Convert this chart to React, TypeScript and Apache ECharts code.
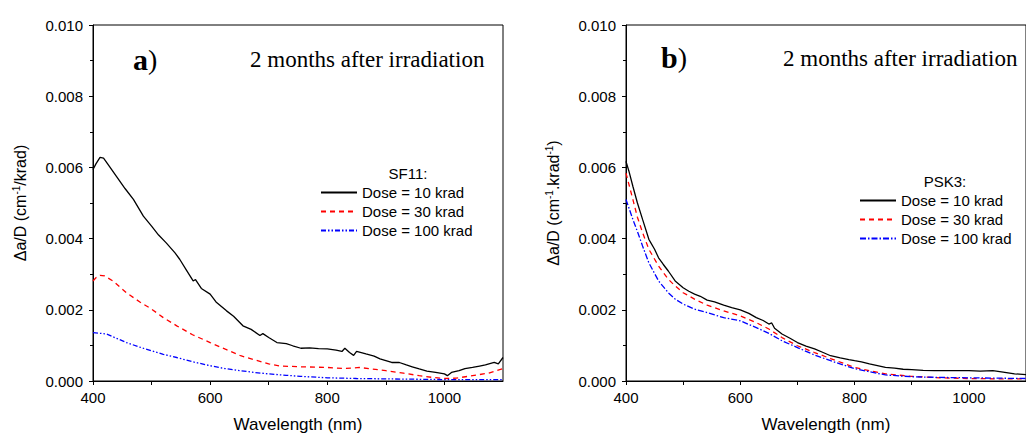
import React, { useEffect, useRef } from "react";
import * as echarts from "echarts";

// ---- Data (wavelength nm, Δa/D in cm^-1/krad) ----
const sf11Dose10: [number, number][] = [
  [400, 0.00594], [405, 0.0061], [412, 0.00628], [418, 0.00626], [425, 0.0061], [440, 0.00575],
  [455, 0.0054], [469, 0.0051], [486, 0.00463], [500, 0.00435], [512, 0.0041], [525, 0.00388],
  [540, 0.0036], [548, 0.00342], [560, 0.0031], [571, 0.00281], [575, 0.00285], [585, 0.0026],
  [600, 0.00244], [610, 0.00222], [628, 0.00197], [640, 0.00182], [656, 0.00155], [670, 0.00145],
  [685, 0.00128], [690, 0.00133], [700, 0.00122], [714, 0.00108], [730, 0.00105], [741, 0.00099],
  [755, 0.00092], [770, 0.00093], [785, 0.00091], [800, 0.0009], [815, 0.00087], [825, 0.00083],
  [830, 0.00092], [838, 0.0008], [845, 0.00072], [850, 0.00083], [866, 0.00076], [880, 0.0007],
  [890, 0.00062], [900, 0.00057], [910, 0.00052], [923, 0.00052], [935, 0.00045], [945, 0.0004],
  [957, 0.00034], [970, 0.00028], [985, 0.00024], [1000, 0.0002], [1005, 0.00015], [1012, 0.00024],
  [1025, 0.00029], [1035, 0.00035], [1048, 0.00038], [1060, 0.00042], [1070, 0.00045], [1076, 0.00048],
  [1085, 0.00052], [1092, 0.00048], [1100, 0.00066],
];
const sf11Dose30: [number, number][] = [
  [400, 0.00281], [405, 0.0029], [412, 0.00297], [420, 0.00295], [435, 0.0028], [457, 0.00248],
  [480, 0.00222], [500, 0.00202], [520, 0.00178], [543, 0.00155], [570, 0.0013], [600, 0.00108],
  [625, 0.0009], [652, 0.00071], [675, 0.0006], [700, 0.00048], [720, 0.00042], [754, 0.0004],
  [800, 0.00038], [829, 0.00035], [855, 0.00038], [875, 0.00034], [900, 0.00029], [930, 0.00022],
  [957, 0.00015], [980, 0.0001], [1000, 0.00007], [1020, 0.00008], [1048, 0.00015], [1075, 0.00022],
  [1100, 0.00035],
];
const sf11Dose100: [number, number][] = [
  [400, 0.00136], [423, 0.00132], [440, 0.0012], [457, 0.00108], [480, 0.00095], [500, 0.00085],
  [520, 0.00075], [543, 0.00066], [570, 0.00054], [600, 0.00043], [625, 0.00035], [652, 0.00029],
  [675, 0.00024], [700, 0.0002], [730, 0.00016], [754, 0.00013], [800, 0.00009], [850, 0.00007],
  [900, 0.00006], [950, 0.00005], [1000, 0.00004], [1050, 0.00004], [1100, 0.00004],
];
const psk3Dose10: [number, number][] = [
  [400, 0.00617], [405, 0.0059], [412, 0.00547], [420, 0.005], [429, 0.00454], [440, 0.00398],
  [450, 0.0037], [457, 0.00346], [465, 0.00328], [474, 0.00309], [486, 0.00281], [500, 0.00262],
  [510, 0.00252], [520, 0.00244], [530, 0.00238], [542, 0.00227], [555, 0.00222], [571, 0.00213],
  [585, 0.00206], [600, 0.002], [615, 0.0019], [628, 0.00178], [640, 0.0017], [645, 0.00165],
  [650, 0.0016], [655, 0.00163], [660, 0.00148], [673, 0.00132], [687, 0.0012], [700, 0.00108],
  [715, 0.00098], [730, 0.0009], [745, 0.0008], [758, 0.00071], [775, 0.00065], [790, 0.0006],
  [800, 0.00057], [812, 0.00054], [826, 0.00048], [840, 0.00043], [854, 0.00038], [870, 0.00036],
  [885, 0.00033], [900, 0.00032], [920, 0.0003], [940, 0.00029], [970, 0.00029], [1000, 0.00029],
  [1020, 0.00028], [1042, 0.00029], [1060, 0.00025], [1080, 0.0002], [1100, 0.00018],
];
const psk3Dose30: [number, number][] = [
  [400, 0.00584], [412, 0.0051], [420, 0.0046], [429, 0.00417], [440, 0.0037], [457, 0.00323],
  [474, 0.00286], [486, 0.00267], [500, 0.00248], [520, 0.0023], [542, 0.00213], [571, 0.00197],
  [600, 0.00183], [628, 0.00164], [650, 0.00146], [673, 0.00122], [700, 0.00099], [730, 0.0008],
  [758, 0.00063], [780, 0.0005], [800, 0.00038], [826, 0.00029], [854, 0.0002], [900, 0.00013],
  [950, 0.00009], [1000, 0.00007], [1050, 0.00006], [1100, 0.00006],
];
const psk3Dose100: [number, number][] = [
  [400, 0.0051], [412, 0.00454], [420, 0.0042], [429, 0.00379], [440, 0.00332], [457, 0.00281],
  [474, 0.00248], [486, 0.0023], [500, 0.00216], [520, 0.00202], [542, 0.00192], [571, 0.00178],
  [600, 0.00169], [628, 0.0015], [650, 0.00134], [673, 0.00113], [700, 0.00094], [730, 0.00073],
  [758, 0.00057], [780, 0.00045], [800, 0.00035], [826, 0.00026], [854, 0.00017], [900, 0.00012],
  [950, 0.0001], [1000, 0.00009], [1050, 0.00008], [1100, 0.00007],
];

const doseLabels: Record<string, string> = {
  "SF11 10": "Dose = 10 krad",
  "SF11 30": "Dose = 30 krad",
  "SF11 100": "Dose = 100 krad",
  "PSK3 10": "Dose = 10 krad",
  "PSK3 30": "Dose = 30 krad",
  "PSK3 100": "Dose = 100 krad",
};
const panelTitle = "2 months after irradiation";

const SANS = "'Liberation Sans', Arial, sans-serif";
const SERIF = "'Liberation Serif', 'Times New Roman', serif";

function makeXAxis(gridIndex: number) {
  return {
    type: "value",
    gridIndex,
    min: 400,
    max: 1100,
    interval: 100,
    name: "Wavelength (nm)",
    nameLocation: "middle",
    nameGap: 35,
    nameTextStyle: { fontFamily: SANS, fontSize: 17, color: "#000" },
    axisLine: { show: true, lineStyle: { color: "#000", width: 1 } },
    axisTick: { show: true, length: 4, lineStyle: { color: "#000" } },
    axisLabel: {
      fontFamily: SANS,
      fontSize: 15,
      color: "#000",
      margin: 9,
      showMaxLabel: false,
      formatter: (v: number) => (Math.round(v) % 200 === 0 && v < 1100 ? String(v) : ""),
    },
    splitLine: { show: false },
  };
}

function makeYAxis(gridIndex: number, nameRich: string) {
  return {
    type: "value",
    gridIndex,
    min: 0,
    max: 0.01,
    interval: 0.002,
    name: nameRich,
    nameLocation: "middle",
    nameGap: 64,
    nameRotate: 90,
    nameTextStyle: {
      color: "#000",
      rich: {
        b: { fontFamily: SANS, fontSize: 16, color: "#000", lineHeight: 18 },
        s: { fontFamily: SANS, fontSize: 10, color: "#000", verticalAlign: "top", lineHeight: 18, padding: [0, 0, 6, 0] },
      },
    },
    axisLine: { show: true, lineStyle: { color: "#000", width: 1 } },
    axisTick: { show: true, length: 4, lineStyle: { color: "#000" } },
    minorTick: { show: true, splitNumber: 2, length: 3, lineStyle: { color: "#000" } },
    axisLabel: {
      fontFamily: SANS,
      fontSize: 15,
      color: "#000",
      margin: 10,
      formatter: (v: number) => v.toFixed(3),
    },
    splitLine: { show: false },
  };
}

function lineSeries(name: string, data: [number, number][], idx: number, color: string, type: any) {
  return {
    type: "line",
    name,
    xAxisIndex: idx,
    yAxisIndex: idx,
    data,
    showSymbol: false,
    symbol: "none",
    smooth: false,
    lineStyle: { color, width: 1.3, type },
    itemStyle: { color },
    clip: true,
  };
}

function makeLegend(left: number, top: number, names: string[]) {
  return {
    orient: "vertical",
    left,
    top,
    padding: 0,
    itemWidth: 36,
    itemHeight: 15,
    itemGap: 4,
    selectedMode: false,
    data: names,
    formatter: (n: string) => doseLabels[n],
    itemStyle: { opacity: 0 },
    textStyle: { fontFamily: SANS, fontSize: 15, color: "#000", lineHeight: 15 },
  };
}

export default function App() {
  const ref = useRef<HTMLDivElement>(null);
  useEffect(() => {
    if (!ref.current) return;
    const chart = echarts.init(ref.current, null, { renderer: "svg" });
    const titleRich = {
      a: { fontFamily: SERIF, fontSize: 30, fontWeight: "bold", fill: "#000" },
      p: { fontFamily: SERIF, fontSize: 28, fill: "#000" },
    };
    const option: any = {
      animation: false,
      backgroundColor: "#fff",
      grid: [
        { left: 93, top: 25, width: 410, height: 357, show: true, borderColor: "#000", borderWidth: 1, containLabel: false },
        { left: 626, top: 25, width: 411, height: 357, show: true, borderColor: "#000", borderWidth: 1, containLabel: false },
      ],
      xAxis: [makeXAxis(0), makeXAxis(1)],
      yAxis: [
        makeYAxis(0, "{b|Δa/D (cm}{s|-1}{b|/krad)}"),
        makeYAxis(1, "{b|Δa/D (cm}{s|-1}{b|.krad}{s|-1}{b|)}"),
      ],
      legend: [
        makeLegend(320, 185, ["SF11 10", "SF11 30", "SF11 100"]),
        makeLegend(859, 193, ["PSK3 10", "PSK3 30", "PSK3 100"]),
      ],
      graphic: [
        { type: "text", x: 133, y: 59, style: { text: "{a|a}{p|)}", verticalAlign: "middle", rich: titleRich } },
        {
          type: "text",
          x: 250,
          y: 59,
          style: { text: panelTitle, fontFamily: SERIF, fontSize: 23, fill: "#000", verticalAlign: "middle" },
        },
        { type: "text", x: 661, y: 57, style: { text: "{a|b}{p|)}", verticalAlign: "middle", rich: titleRich } },
        {
          type: "text",
          x: 783,
          y: 58,
          style: { text: panelTitle, fontFamily: SERIF, fontSize: 23, fill: "#000", verticalAlign: "middle" },
        },
        {
          type: "text",
          x: 408,
          y: 173,
          style: { text: "SF11:", fontFamily: SANS, fontSize: 15, fill: "#000", align: "center", verticalAlign: "middle" },
        },
        {
          type: "text",
          x: 945,
          y: 181,
          style: { text: "PSK3:", fontFamily: SANS, fontSize: 15, fill: "#000", align: "center", verticalAlign: "middle" },
        },
      ],
      series: [
        lineSeries("SF11 10", sf11Dose10, 0, "#000000", "solid"),
        lineSeries("SF11 30", sf11Dose30, 0, "#ff0000", [5, 4]),
        lineSeries("SF11 100", sf11Dose100, 0, "#0000ff", [5, 2, 1.5, 2, 1.5, 2]),
        lineSeries("PSK3 10", psk3Dose10, 1, "#000000", "solid"),
        lineSeries("PSK3 30", psk3Dose30, 1, "#ff0000", [5, 4]),
        lineSeries("PSK3 100", psk3Dose100, 1, "#0000ff", [6, 2, 1.5, 2]),
      ],
    };
    chart.setOption(option);
    return () => chart.dispose();
  }, []);
  return (
    <div
      ref={ref}
      style={{ position: "fixed", left: 0, top: 0, width: 1026, height: 438, background: "#fff" }}
    />
  );
}
